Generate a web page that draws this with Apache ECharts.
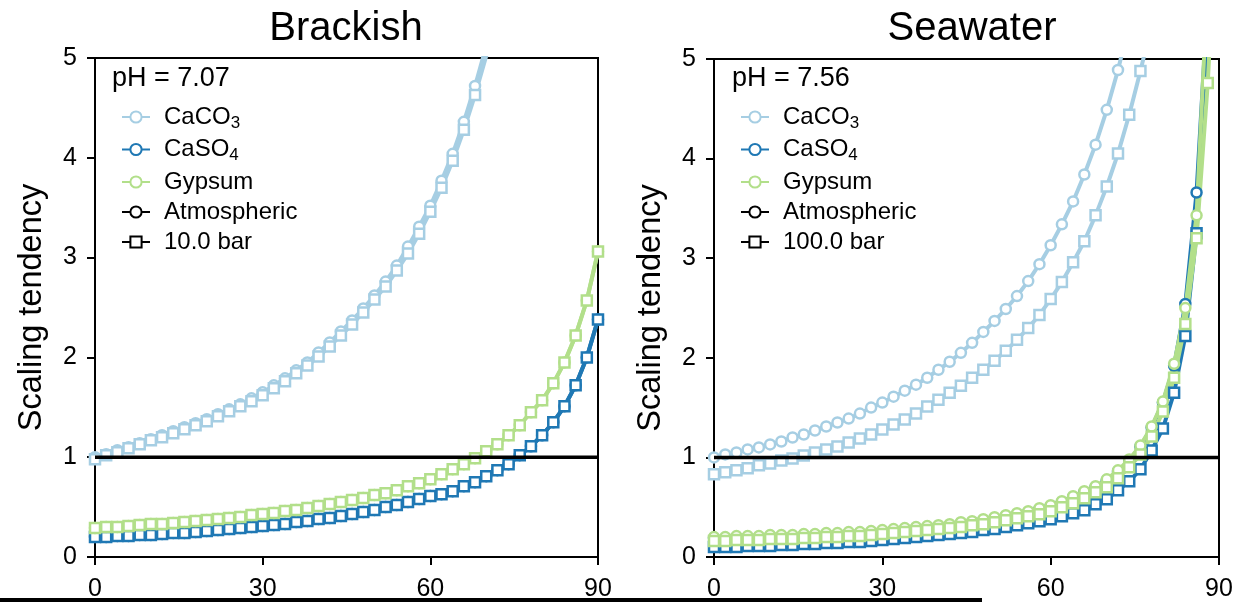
<!DOCTYPE html>
<html>
<head>
<meta charset="utf-8">
<script src="https://cdn.jsdelivr.net/npm/echarts@6/dist/echarts.min.js"></script>
<style>
  html, body { margin: 0; padding: 0; background: #fff; }
  #chart { width: 1248px; height: 602px; }
</style>
</head>
<body>
<div id="chart"></div>
<script>
// x positions of the points (same for every series)
const xs = [0, 2, 4, 6, 8, 10, 12, 14, 16, 18, 20, 22, 24, 26, 28, 30, 32, 34, 36, 38, 40, 42, 44,
  46, 48, 50, 52, 54, 56, 58, 60, 62, 64, 66, 68, 70, 72, 74, 76, 78, 80, 82, 84, 86, 88, 90]
const xTicks = [0, 30, 60, 90]

// Brackish, atmospheric (circles) and 10 bar (squares)
const brCaCO3Atm = [1.00, 1.03, 1.07, 1.10, 1.14, 1.18, 1.22, 1.26, 1.30, 1.34, 1.38, 1.43, 1.48, 1.53,
  1.59, 1.65, 1.72, 1.79, 1.87, 1.95, 2.05, 2.15, 2.26, 2.37, 2.49, 2.62, 2.76, 2.92, 3.11, 3.31, 3.52,
  3.77, 4.04, 4.36, 4.72, 5.12, 5.55]
const brCaCO3Bar = [0.98, 1.02, 1.05, 1.09, 1.13, 1.17, 1.20, 1.24, 1.28, 1.32, 1.36, 1.41, 1.46, 1.51,
  1.56, 1.62, 1.69, 1.76, 1.84, 1.92, 2.01, 2.11, 2.22, 2.33, 2.45, 2.58, 2.71, 2.87, 3.04, 3.24, 3.46,
  3.70, 3.97, 4.28, 4.63, 5.02, 5.45]
const brCaSO4Atm = [0.20, 0.20, 0.21, 0.21, 0.22, 0.22, 0.23, 0.24, 0.24, 0.25, 0.26, 0.27, 0.28, 0.29,
  0.30, 0.31, 0.32, 0.33, 0.35, 0.36, 0.38, 0.39, 0.41, 0.43, 0.45, 0.47, 0.50, 0.52, 0.55, 0.58, 0.61,
  0.63, 0.66, 0.71, 0.75, 0.81, 0.87, 0.93, 1.02, 1.11, 1.22, 1.35, 1.51, 1.72, 2.00, 2.38]
const brCaSO4Bar = [0.20, 0.20, 0.21, 0.21, 0.22, 0.22, 0.23, 0.24, 0.24, 0.25, 0.26, 0.27, 0.28, 0.29,
  0.30, 0.31, 0.32, 0.33, 0.35, 0.36, 0.38, 0.39, 0.41, 0.43, 0.45, 0.47, 0.50, 0.52, 0.55, 0.58, 0.61,
  0.63, 0.66, 0.71, 0.75, 0.81, 0.87, 0.93, 1.02, 1.11, 1.22, 1.35, 1.51, 1.72, 2.00, 2.38]
const brGypAtm = [0.29, 0.30, 0.30, 0.31, 0.32, 0.33, 0.33, 0.34, 0.35, 0.36, 0.37, 0.38, 0.39, 0.40,
  0.42, 0.43, 0.44, 0.46, 0.47, 0.49, 0.51, 0.53, 0.55, 0.57, 0.59, 0.62, 0.64, 0.67, 0.71, 0.74, 0.78,
  0.83, 0.88, 0.93, 0.99, 1.06, 1.13, 1.22, 1.32, 1.45, 1.57, 1.74, 1.95, 2.22, 2.57, 3.06]
const brGypBar = [0.29, 0.30, 0.30, 0.31, 0.32, 0.33, 0.33, 0.34, 0.35, 0.36, 0.37, 0.38, 0.39, 0.40,
  0.42, 0.43, 0.44, 0.46, 0.47, 0.49, 0.51, 0.53, 0.55, 0.57, 0.59, 0.62, 0.64, 0.67, 0.71, 0.74, 0.78,
  0.83, 0.88, 0.93, 0.99, 1.06, 1.13, 1.22, 1.32, 1.45, 1.57, 1.74, 1.95, 2.22, 2.57, 3.06]

// Seawater, atmospheric (circles) and 100 bar (squares)
const swCaCO3Atm = [1.00, 1.03, 1.05, 1.08, 1.10, 1.13, 1.16, 1.20, 1.23, 1.27, 1.31, 1.35, 1.39, 1.44,
  1.50, 1.55, 1.61, 1.67, 1.73, 1.80, 1.88, 1.96, 2.05, 2.15, 2.26, 2.37, 2.49, 2.62, 2.77, 2.94, 3.13,
  3.34, 3.57, 3.84, 4.14, 4.49, 4.89, 5.35]
const swCaCO3Bar = [0.83, 0.85, 0.87, 0.89, 0.92, 0.94, 0.97, 0.99, 1.02, 1.05, 1.08, 1.11, 1.15, 1.19,
  1.23, 1.28, 1.33, 1.38, 1.44, 1.51, 1.58, 1.65, 1.72, 1.80, 1.88, 1.97, 2.07, 2.18, 2.30, 2.43, 2.59,
  2.76, 2.96, 3.17, 3.43, 3.72, 4.05, 4.44, 4.88, 5.35]
const swCaSO4Atm = [0.19, 0.19, 0.20, 0.20, 0.20, 0.21, 0.21, 0.21, 0.22, 0.22, 0.23, 0.23, 0.24, 0.24,
  0.25, 0.26, 0.27, 0.28, 0.29, 0.30, 0.31, 0.32, 0.34, 0.35, 0.37, 0.39, 0.41, 0.43, 0.45, 0.48, 0.51,
  0.55, 0.60, 0.65, 0.70, 0.77, 0.86, 0.97, 1.11, 1.30, 1.55, 1.92, 2.54, 3.66, 5.60]
const swCaSO4Bar = [0.10, 0.10, 0.10, 0.11, 0.11, 0.11, 0.12, 0.12, 0.13, 0.13, 0.14, 0.14, 0.15, 0.15,
  0.16, 0.17, 0.18, 0.19, 0.20, 0.21, 0.22, 0.23, 0.24, 0.25, 0.27, 0.28, 0.30, 0.32, 0.34, 0.36, 0.38,
  0.41, 0.44, 0.47, 0.53, 0.58, 0.67, 0.76, 0.88, 1.07, 1.29, 1.65, 2.22, 3.25, 5.40]
const swGypAtm = [0.20, 0.20, 0.21, 0.21, 0.21, 0.22, 0.22, 0.22, 0.23, 0.23, 0.24, 0.24, 0.25, 0.25,
  0.26, 0.27, 0.28, 0.29, 0.30, 0.31, 0.32, 0.33, 0.35, 0.36, 0.38, 0.40, 0.42, 0.44, 0.46, 0.49, 0.52,
  0.56, 0.61, 0.66, 0.71, 0.78, 0.87, 0.98, 1.12, 1.31, 1.56, 1.94, 2.50, 3.43, 5.80]
const swGypBar = [0.16, 0.16, 0.17, 0.17, 0.17, 0.18, 0.18, 0.18, 0.19, 0.19, 0.20, 0.20, 0.21, 0.21,
  0.22, 0.23, 0.24, 0.25, 0.26, 0.27, 0.28, 0.29, 0.30, 0.32, 0.33, 0.35, 0.37, 0.39, 0.41, 0.43, 0.46,
  0.50, 0.54, 0.59, 0.65, 0.70, 0.79, 0.90, 1.03, 1.21, 1.46, 1.80, 2.34, 3.20, 4.76, 7.00]

const saturation = [[0, 1], [90, 1]]

const FONT = '"Liberation Sans", Arial, sans-serif'
const C_CACO3 = '#a6cee3'
const C_CASO4 = '#1f78b4'
const C_GYP = '#b2df8a'

const chart = echarts.init(document.getElementById('chart'))

function line(name, values, color, symbol, idx) {
  return {
    type: 'line',
    name: name,
    xAxisIndex: idx,
    yAxisIndex: idx,
    data: values.map((v, i) => [xs[i], v]),
    color: color,
    symbol: symbol,
    symbolSize: 10,
    showSymbol: true,
    lineStyle: { color: color, width: 4 },
    itemStyle: { color: '#fff', borderColor: color, borderWidth: 2.5 },
    emphasis: { disabled: true },
    clip: true,
    z: 2
  }
}

function dummy(name, symbol) {
  return {
    type: 'line', name: name, data: [], color: '#000', symbol: symbol, symbolSize: 10,
    lineStyle: { color: '#000', width: 4 },
    itemStyle: { color: '#fff', borderColor: '#000', borderWidth: 2.5 }
  }
}

function hline(idx) {
  return {
    type: 'line', name: 'sat' + idx, xAxisIndex: idx, yAxisIndex: idx, data: saturation,
    symbol: 'none', lineStyle: { color: '#000', width: 3.5 }, z: 5, emphasis: { disabled: true }
  }
}

function xAxis(idx) {
  return {
    gridIndex: idx, type: 'value', min: 0, max: 90, interval: 30,
    axisLine: { show: true, onZero: false, lineStyle: { color: '#000', width: 2 } },
    axisTick: { show: true, length: 8, lineStyle: { color: '#000', width: 2 } },
    axisLabel: { fontSize: 25, color: '#000', fontFamily: FONT, margin: 20,
      formatter: v => xTicks.includes(v) ? String(v) : '' },
    splitLine: { show: false }
  }
}

function yAxis(idx) {
  return {
    gridIndex: idx, type: 'value', min: 0, max: 5, interval: 1,
    name: 'Scaling tendency', nameLocation: 'middle', nameGap: 46,
    nameTextStyle: { fontSize: 32.5, color: '#000', fontFamily: FONT },
    axisLine: { show: true, onZero: false, lineStyle: { color: '#000', width: 2 } },
    axisTick: { show: true, length: 8, lineStyle: { color: '#000', width: 2 } },
    axisLabel: { fontSize: 25, color: '#000', fontFamily: FONT, margin: 18 },
    splitLine: { show: false }
  }
}

function legend(left, barName) {
  return {
    orient: 'vertical', left: left, top: 100, itemGap: 6, itemWidth: 28, itemHeight: 14,
    selectedMode: false,
    data: ['CaCO3', 'CaSO4', 'Gypsum', 'Atmospheric', barName],
    formatter: n => n === 'CaCO3' ? '{n|CaCO}{s|3}' : n === 'CaSO4' ? '{n|CaSO}{s|4}' : '{n|' + n + '}',
    textStyle: {
      padding: [0, 0, 0, 9],
      rich: {
        n: { fontSize: 24, color: '#000', fontFamily: FONT, lineHeight: 24 },
        s: { fontSize: 17, color: '#000', fontFamily: FONT, padding: [12, 0, 0, 0] }
      }
    }
  }
}

const option = {
  animation: false,
  backgroundColor: '#fff',
  grid: [
    { left: 95, top: 58, width: 503, height: 500, show: true, borderColor: '#000', borderWidth: 2 },
    { left: 714, top: 59, width: 505, height: 500, show: true, borderColor: '#000', borderWidth: 2 }
  ],
  xAxis: [xAxis(0), xAxis(1)],
  yAxis: [yAxis(0), yAxis(1)],
  legend: [legend(116, '10.0 bar'), legend(735, '100.0 bar')],
  graphic: [
    { type: 'text', x: 346, y: 9, style: { text: 'Brackish', font: '40px ' + FONT, fill: '#000', textAlign: 'center', textVerticalAlign: 'top' } },
    { type: 'text', x: 972, y: 9, style: { text: 'Seawater', font: '40px ' + FONT, fill: '#000', textAlign: 'center', textVerticalAlign: 'top' } },
    { type: 'text', x: 112, y: 65, style: { text: 'pH = 7.07', font: '27px ' + FONT, fill: '#000' } },
    { type: 'text', x: 732, y: 65, style: { text: 'pH = 7.56', font: '27px ' + FONT, fill: '#000' } },
    { type: 'rect', shape: { x: 0, y: 598, width: 982, height: 5 }, style: { fill: '#000' } }
  ],
  series: [
    line('CaCO3', brCaCO3Atm, C_CACO3, 'circle', 0),
    line('CaCO3 bar', brCaCO3Bar, C_CACO3, 'rect', 0),
    line('CaSO4', brCaSO4Atm, C_CASO4, 'circle', 0),
    line('CaSO4 bar', brCaSO4Bar, C_CASO4, 'rect', 0),
    line('Gypsum', brGypAtm, C_GYP, 'circle', 0),
    line('Gypsum bar', brGypBar, C_GYP, 'rect', 0),
    hline(0),
    line('CaCO3', swCaCO3Atm, C_CACO3, 'circle', 1),
    line('CaCO3 bar', swCaCO3Bar, C_CACO3, 'rect', 1),
    line('CaSO4', swCaSO4Atm, C_CASO4, 'circle', 1),
    line('CaSO4 bar', swCaSO4Bar, C_CASO4, 'rect', 1),
    line('Gypsum', swGypAtm, C_GYP, 'circle', 1),
    line('Gypsum bar', swGypBar, C_GYP, 'rect', 1),
    hline(1),
    dummy('Atmospheric', 'circle'),
    dummy('10.0 bar', 'rect'),
    dummy('100.0 bar', 'rect')
  ]
}

chart.setOption(option)
</script>
</body>
</html>
